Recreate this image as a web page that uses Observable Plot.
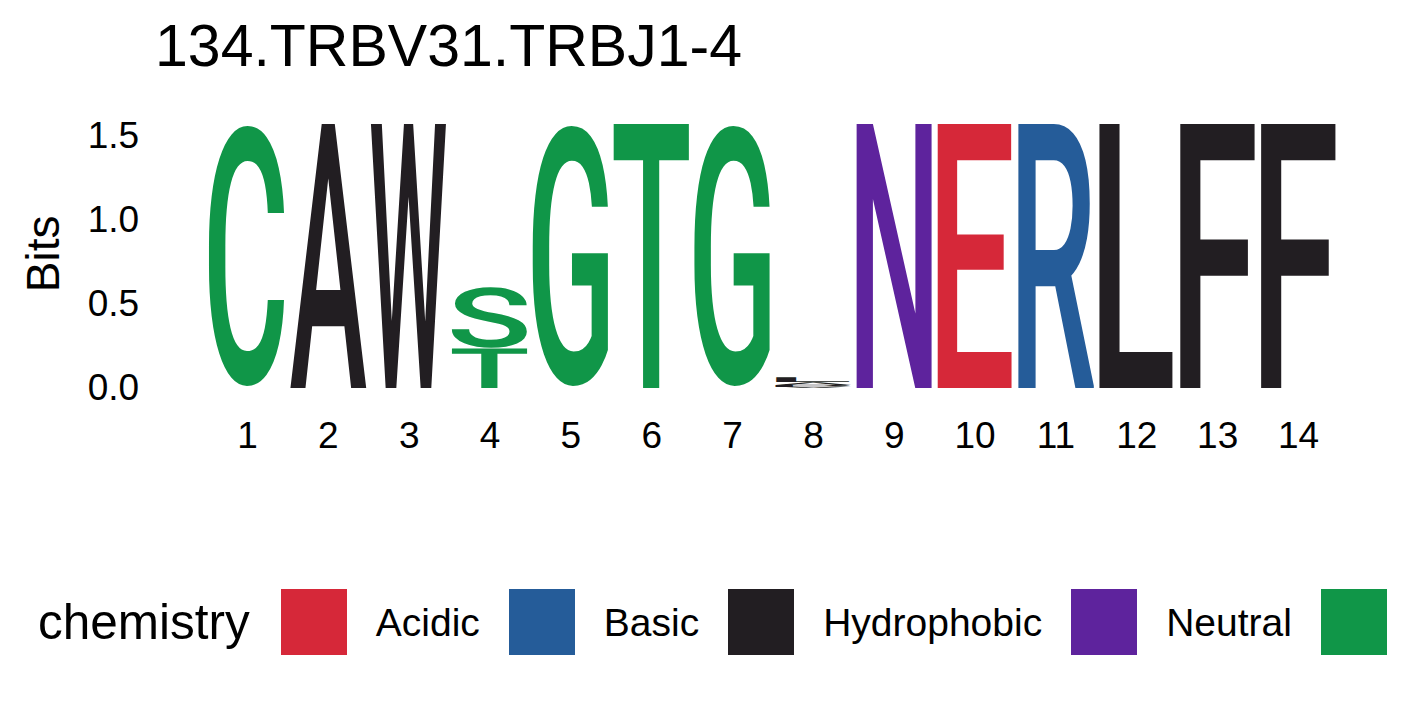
<!DOCTYPE html>
<html>
<head>
<meta charset="utf-8">
<script src="https://cdn.jsdelivr.net/npm/d3@7"></script>
<script src="https://cdn.jsdelivr.net/npm/@observablehq/plot@0.6"></script>
<style>
  body { margin: 0; background: #fff; width: 1417px; height: 708px; overflow: hidden; position: relative;
         font-family: "Liberation Sans", Arial, sans-serif; color: #000; }
  #title { position: absolute; left: 155px; top: 17px; font-size: 59px; line-height: 1; white-space: nowrap; z-index: 2; }
  #chart { position: absolute; left: 0; top: 0; z-index: 1; }
  #legend { position: absolute; left: 38px; top: 589px; height: 66px; display: flex; align-items: center;
            white-space: nowrap; line-height: 1; }
  #legend .ttl { font-size: 49.5px; margin-right: 31px; }
  #legend .sw { width: 66px; height: 66px; flex: none; margin-right: 29px; }
  #legend .lab { font-size: 39px; margin-right: 29px; }
</style>
</head>
<body>
<div id="title">134.TRBV31.TRBJ1-4</div>
<div id="chart"></div>
<div id="legend"></div>
<script>
const positions = [1, 2, 3, 4, 5, 6, 7, 8, 9, 10, 11, 12, 13, 14];
const yTicks = [0, 0.5, 1, 1.5];

// letters per position, bottom to top (smallest first)
const letterPos  = [1, 2, 3, 4, 4, 5, 6, 7, 8, 8, 8, 8, 9, 10, 11, 12, 13, 14];
const letterChar = ["C", "A", "W", "T", "S", "G", "T", "G", "V", "P", "A", "L", "N", "E", "R", "L", "F", "F"];
const letterBits = [1.585, 1.585, 1.585, 0.238, 0.368, 1.585, 1.585, 1.585,
                    0.008, 0.012, 0.016, 0.028, 1.585, 1.585, 1.585, 1.585, 1.585, 1.585];

// chemistry colour scheme
const groups       = ["Acidic", "Basic", "Hydrophobic", "Neutral", "Polar"];
const groupColors  = ["#D62839", "#255C99", "#221E22", "#5E239D", "#109648"];
const groupLetters = ["DE", "KRH", "PAWFLIMV", "QN", "GSTYC"];

const GLYPH_FONT = "Roboto";
const GLYPH_WEIGHT = "500";
const GLYPH_SIZE = 1000;

(async function () {
  try { await document.fonts.load(`${GLYPH_WEIGHT} ${GLYPH_SIZE}px ${GLYPH_FONT}`, "ACDEFGLNRSTVWP"); } catch (e) {}

  const chemOf = ch => groups[groupLetters.findIndex(s => s.includes(ch))];

  // ---------- stack letters per position ----------
  const rows = [];
  const top = new Map();
  letterPos.forEach((p, i) => {
    const y1 = top.get(p) ?? 0;
    const y2 = y1 + letterBits[i];
    top.set(p, y2);
    rows.push({pos: p, letter: letterChar[i], chem: chemOf(letterChar[i]), y1, y2});
  });

  // ---------- glyph ink boxes (so each letter fills its rectangle) ----------
  const ctx = document.createElement("canvas").getContext("2d");
  ctx.font = `${GLYPH_WEIGHT} ${GLYPH_SIZE}px ${GLYPH_FONT}`;
  const boxCache = new Map();
  function inkBox(ch) {
    if (!boxCache.has(ch)) {
      const t = ctx.measureText(ch);
      const left = -t.actualBoundingBoxLeft, right = t.actualBoundingBoxRight;
      const tp = -t.actualBoundingBoxAscent, bt = t.actualBoundingBoxDescent;
      boxCache.set(ch, {left, top: tp, w: right - left, h: bt - tp});
    }
    return boxCache.get(ch);
  }

  function renderGlyphs(index, scales, values) {
    const g = d3.create("svg:g");
    for (const i of index) {
      const xa = Math.min(values.x1[i], values.x2[i]), xb = Math.max(values.x1[i], values.x2[i]);
      const ya = Math.min(values.y1[i], values.y2[i]), yb = Math.max(values.y1[i], values.y2[i]);
      const b = inkBox(rows[i].letter);
      const sx = (xb - xa) / b.w, sy = (yb - ya) / b.h;
      g.append("text")
        .attr("transform", `translate(${xa},${ya}) scale(${sx},${sy}) translate(${-b.left},${-b.top})`)
        .attr("font-family", GLYPH_FONT)
        .attr("font-weight", GLYPH_WEIGHT)
        .attr("font-size", GLYPH_SIZE)
        .attr("text-anchor", "start")
        .attr("text-rendering", "geometricPrecision")
        .attr("fill", values.fill ? values.fill[i] : "#000")
        .text(rows[i].letter);
    }
    return g.node();
  }

  const chart = Plot.plot({
    width: 1417, height: 480,
    marginLeft: 206.6, marginRight: 78.6, marginTop: 118.7, marginBottom: 92,
    style: {fontFamily: '"Liberation Sans", Arial, sans-serif', fontSize: "37px", color: "#000", background: "transparent", overflow: "visible"},
    x: {domain: [0.5, 14.5]},
    y: {domain: [0, 1.6]},
    color: {domain: groups, range: groupColors},
    marks: [
      Plot.axisX({ticks: positions, tickSize: 0, tickPadding: 33, label: null, tickFormat: d => String(d)}),
      Plot.axisY({ticks: yTicks, tickSize: 0, tickPadding: 68, label: null, tickFormat: d3.format(".1f")}),
      Plot.text(["Bits"], {frameAnchor: "left", textAnchor: "middle", lineAnchor: "middle",
                           dx: -163, rotate: -90, fontSize: 46, text: d => d}),
      Plot.rect(rows, {
        x1: d => d.pos - 0.475, x2: d => d.pos + 0.475,
        y1: "y1", y2: "y2", fill: "chem",
        render: renderGlyphs
      })
    ]
  });
  document.getElementById("chart").appendChild(chart);

  // ---------- legend ----------
  const leg = d3.select("#legend");
  leg.append("span").attr("class", "ttl").text("chemistry");
  groups.forEach((grp, i) => {
    leg.append("span").attr("class", "sw").style("background", groupColors[i]);
    leg.append("span").attr("class", "lab").text(grp);
  });
})();
</script>
</body>
</html>
